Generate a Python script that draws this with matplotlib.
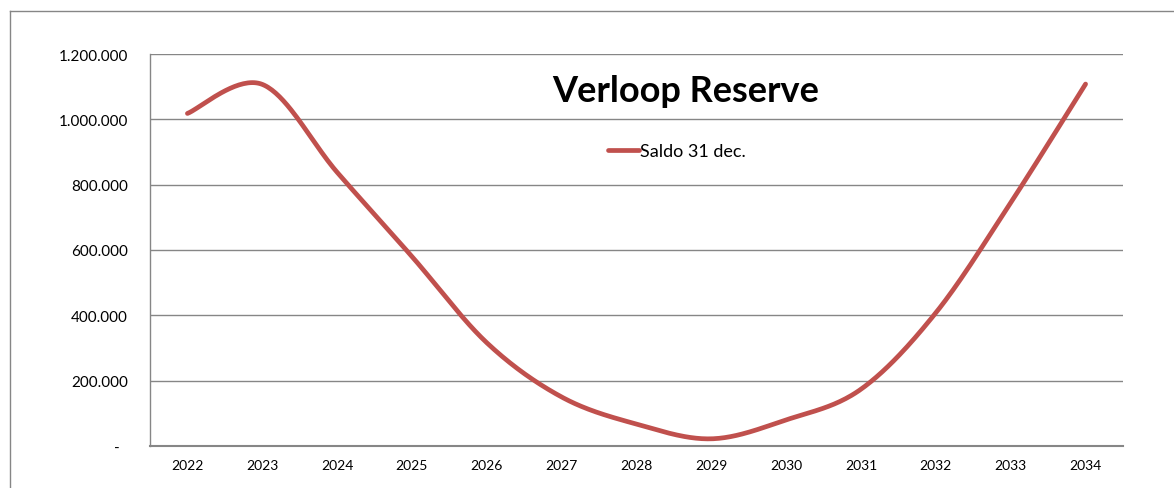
import matplotlib
matplotlib.use("Agg")
import matplotlib.pyplot as plt
from matplotlib.ticker import FuncFormatter, FixedLocator
from matplotlib.lines import Line2D
import numpy as np

years = ["2022", "2023", "2024", "2025", "2026", "2027", "2028",
         "2029", "2030", "2031", "2032", "2033", "2034"]
saldo = [1018000, 1107000, 838000, 580000, 316000, 150000, 67000,
         22000, 80000, 174000, 408000, 745000, 1108000]
y_ticks = [0, 200000, 400000, 600000, 800000, 1000000, 1200000]
title = "Verloop Reserve"
legend_label = "Saldo 31 dec."

plt.rcParams['font.family'] = ['Lato', 'DejaVu Sans']

fig = plt.figure(figsize=(11.74, 4.89), dpi=100)
ax = fig.add_axes([150/1174, 1-447/489, (1123-150)/1174, (447-55)/489])

# Smoothed line (Excel-like Catmull-Rom Bezier)
x = np.arange(len(saldo), dtype=float)
y = np.array(saldo, dtype=float)
xs, ys = [], []
t = np.linspace(0, 1, 40)
n = len(x)
for i in range(n - 1):
    p0 = np.array([x[max(i-1, 0)], y[max(i-1, 0)]])
    p1 = np.array([x[i], y[i]])
    p2 = np.array([x[i+1], y[i+1]])
    p3 = np.array([x[min(i+2, n-1)], y[min(i+2, n-1)]])
    c1 = p1 + (p2 - p0) / 6.0
    c2 = p2 - (p3 - p1) / 6.0
    for tt in t:
        b = ((1-tt)**3) * p1 + 3*((1-tt)**2)*tt*c1 + 3*(1-tt)*tt**2*c2 + tt**3*p2
        xs.append(b[0]); ys.append(b[1])

ax.plot(xs, ys, color="#C0504D", lw=3.4, solid_capstyle="round", zorder=3)

ax.set_xlim(-0.5, len(years) - 0.5)
ax.set_ylim(0, 1200000)
ax.set_xticks(x)
ax.set_xticklabels(years, fontsize=10)
ax.yaxis.set_major_locator(FixedLocator(y_ticks))
ax.yaxis.set_major_formatter(FuncFormatter(
    lambda v, p: "-  " if v == 0 else f"{int(v):,}".replace(",", ".")))
ax.tick_params(axis="y", labelsize=11, length=0, pad=16)
ax.tick_params(axis="x", length=0, pad=9)
ax.grid(axis="y", color="#868686", lw=1.0)
ax.set_axisbelow(True)
for s in ["top", "right"]:
    ax.spines[s].set_visible(False)
ax.spines["left"].set_color("#868686")
ax.spines["bottom"].set_color("#868686")
ax.spines["left"].set_linewidth(1.0)
ax.spines["bottom"].set_linewidth(1.5)

fig.text(686/1174, 1-92/489, title, fontsize=26, fontweight="bold",
         ha="center", va="center")
fig.legend(handles=[Line2D([], [], color="#C0504D", lw=3.4, solid_capstyle="round")],
           labels=[legend_label], loc="center", bbox_to_anchor=(677/1174, 1-152/489),
           frameon=False, fontsize=13, handlelength=1.7, handletextpad=0.1)

# Outer chart border
fig.add_artist(Line2D([10/1174, 10/1174], [0, 1-12/489], transform=fig.transFigure,
                      color="#868686", lw=1.0))
fig.add_artist(Line2D([10/1174, 1], [1-12/489, 1-12/489], transform=fig.transFigure,
                      color="#868686", lw=1.0))

fig.savefig("out.png", dpi=100)
